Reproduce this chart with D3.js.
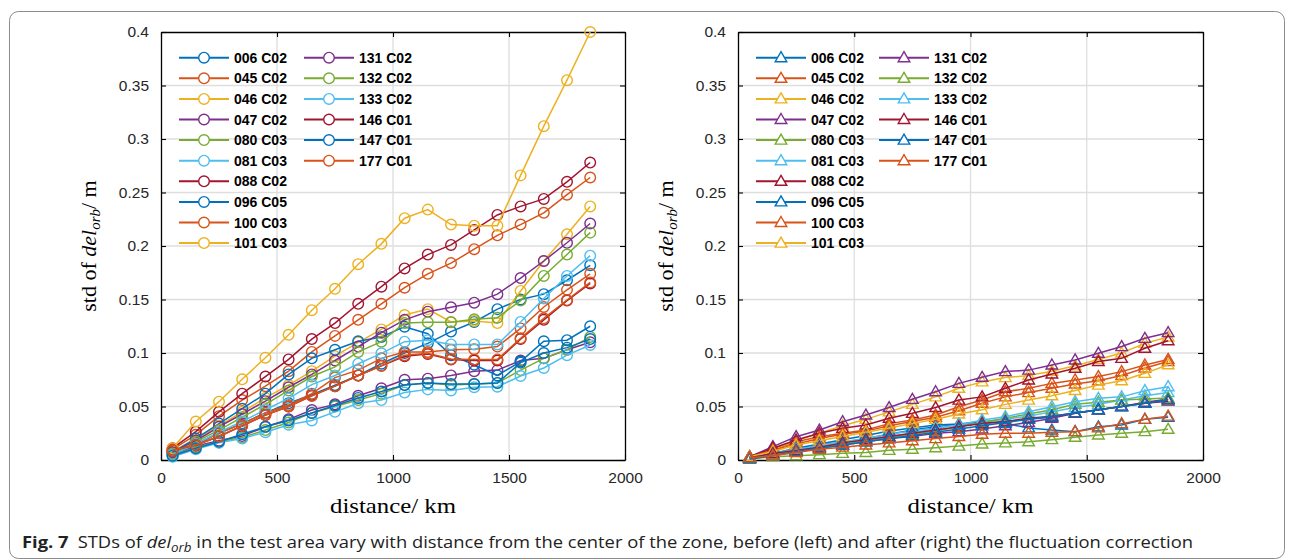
<!DOCTYPE html>
<html><head><meta charset="utf-8">
<script src="https://cdn.jsdelivr.net/npm/d3@7"></script>
<style>html,body{margin:0;padding:0;background:#fff;}svg{display:block;}</style>
</head><body>
<svg id="chart" width="1296" height="560"></svg>
<script>
// ---------------- DATA ----------------
const distances = [50,150,250,350,450,550,650,750,850,950,1050,1150,1250,1350,1450,1550,1650,1750,1850];
const seriesNames = ["006 C02","045 C02","046 C02","047 C02","080 C03","081 C03","088 C02","096 C05","100 C03","101 C03","131 C02","132 C02","133 C02","146 C01","147 C01","177 C01"];
const seriesColors = ["#0072BD","#D95319","#EDB120","#7E2F8E","#77AC30","#4DBEEE","#A2142F","#0072BD","#D95319","#EDB120","#7E2F8E","#77AC30","#4DBEEE","#A2142F","#0072BD","#D95319"];
const xTicks = [0,500,1000,1500,2000];
const yTicks = [0,0.05,0.1,0.15,0.2,0.25,0.3,0.35,0.4];
const yTickLabels = ["0","0.05","0.1","0.15","0.2","0.25","0.3","0.35","0.4"];
const xTickLabels = ["0","500","1000","1500","2000"];

// before correction (left)
const L_006 = [0.006,0.015,0.025,0.034,0.044,0.053,0.061,0.070,0.079,0.090,0.100,0.109,0.120,0.129,0.141,0.150,0.155,0.168,0.182];
const L_045 = [0.010,0.0235,0.041,0.056,0.069,0.083,0.101,0.116,0.131,0.146,0.161,0.174,0.184,0.197,0.210,0.220,0.231,0.248,0.264];
const L_046 = [0.008,0.020,0.032,0.045,0.058,0.070,0.083,0.097,0.110,0.122,0.1355,0.141,0.129,0.130,0.128,0.158,0.186,0.211,0.237];
const L_047 = [0.005,0.013,0.018,0.0224,0.031,0.038,0.0467,0.052,0.060,0.067,0.075,0.076,0.079,0.083,0.084,0.093,0.095,0.103,0.110];
const L_080 = [0.004,0.012,0.017,0.021,0.028,0.035,0.044,0.050,0.056,0.062,0.070,0.072,0.070,0.071,0.072,0.084,0.095,0.103,0.115];
const L_081 = [0.003,0.010,0.016,0.020,0.026,0.033,0.037,0.045,0.053,0.056,0.063,0.066,0.065,0.068,0.0685,0.0785,0.086,0.098,0.1075];
const L_088 = [0.011,0.0265,0.045,0.062,0.078,0.094,0.113,0.128,0.146,0.162,0.179,0.192,0.201,0.215,0.229,0.237,0.244,0.260,0.278];
const L_096 = [0.007,0.020,0.034,0.048,0.062,0.080,0.095,0.103,0.111,0.115,0.1246,0.118,0.098,0.089,0.079,0.092,0.111,0.112,0.125];
const L_100 = [0.008,0.015,0.025,0.034,0.044,0.0514,0.062,0.077,0.084,0.095,0.101,0.101,0.103,0.1034,0.106,0.123,0.143,0.159,0.174];
const L_101 = [0.011,0.036,0.0545,0.0754,0.0956,0.117,0.140,0.160,0.183,0.202,0.226,0.234,0.220,0.219,0.219,0.266,0.312,0.355,0.400];
const L_131 = [0.007,0.018,0.031,0.043,0.055,0.068,0.080,0.093,0.106,0.119,0.131,0.1386,0.1427,0.147,0.155,0.170,0.186,0.203,0.221];
const L_132 = [0.006,0.017,0.028,0.040,0.052,0.065,0.078,0.087,0.101,0.1106,0.128,0.1287,0.1287,0.1315,0.133,0.149,0.172,0.192,0.2125];
const L_133 = [0.005,0.015,0.026,0.036,0.047,0.0576,0.0705,0.079,0.090,0.0997,0.1106,0.112,0.108,0.108,0.108,0.129,0.151,0.172,0.191];
const L_146 = [0.009,0.014,0.022,0.032,0.042,0.050,0.060,0.069,0.079,0.088,0.097,0.099,0.094,0.093,0.093,0.113,0.131,0.149,0.165];
const L_147 = [0.004,0.011,0.017,0.024,0.031,0.037,0.044,0.051,0.058,0.064,0.070,0.072,0.071,0.071,0.072,0.091,0.100,0.105,0.113];
const L_177 = [0.009,0.014,0.022,0.032,0.042,0.050,0.060,0.069,0.079,0.088,0.098,0.0997,0.0944,0.094,0.094,0.1137,0.1324,0.1495,0.166];

// after correction (right)
const R_006 = [0.002,0.005,0.009,0.012,0.016,0.020,0.024,0.028,0.031,0.033,0.034,0.036,0.038,0.040,0.0436,0.047,0.050,0.053,0.057];
const R_045 = [0.003,0.0093,0.017,0.0218,0.025,0.028,0.034,0.0374,0.042,0.0498,0.056,0.0638,0.067,0.0716,0.0748,0.078,0.0826,0.0888,0.094];
const R_046 = [0.003,0.010,0.018,0.025,0.032,0.038,0.045,0.052,0.059,0.067,0.073,0.077,0.079,0.083,0.088,0.094,0.100,0.109,0.115];
const R_047 = [0.003,0.0125,0.0218,0.028,0.0358,0.042,0.049,0.0567,0.0638,0.0716,0.0773,0.0826,0.084,0.0888,0.0935,0.0997,0.106,0.1137,0.119];
const R_080 = [0.001,0.003,0.004,0.005,0.0062,0.007,0.009,0.010,0.0115,0.013,0.015,0.016,0.017,0.019,0.0212,0.0234,0.025,0.0265,0.0287];
const R_081 = [0.002,0.006,0.010,0.014,0.017,0.020,0.024,0.027,0.030,0.033,0.036,0.038,0.041,0.045,0.049,0.052,0.056,0.060,0.063];
const R_088 = [0.003,0.011,0.0187,0.025,0.0296,0.0327,0.039,0.0436,0.049,0.056,0.059,0.067,0.0748,0.0804,0.0857,0.092,0.095,0.1044,0.1115];
const R_096 = [0.002,0.006,0.011,0.015,0.019,0.023,0.027,0.030,0.0327,0.0336,0.036,0.034,0.030,0.028,0.0265,0.031,0.0327,0.038,0.040];
const R_100 = [0.003,0.009,0.015,0.020,0.024,0.027,0.032,0.036,0.040,0.046,0.053,0.059,0.063,0.067,0.071,0.074,0.079,0.086,0.092];
const R_101 = [0.003,0.008,0.014,0.018,0.022,0.026,0.030,0.034,0.038,0.043,0.047,0.052,0.056,0.060,0.065,0.070,0.074,0.081,0.089];
const R_131 = [0.002,0.005,0.008,0.011,0.014,0.017,0.020,0.022,0.025,0.0265,0.029,0.032,0.035,0.039,0.0436,0.047,0.050,0.054,0.0567];
const R_132 = [0.002,0.005,0.009,0.012,0.015,0.018,0.021,0.024,0.027,0.031,0.035,0.039,0.043,0.047,0.052,0.054,0.056,0.057,0.058];
const R_133 = [0.002,0.006,0.010,0.013,0.016,0.019,0.022,0.025,0.0296,0.0327,0.0374,0.0405,0.045,0.0498,0.0545,0.0576,0.059,0.0648,0.0685];
const R_146 = [0.002,0.006,0.009,0.012,0.016,0.019,0.022,0.025,0.028,0.031,0.034,0.036,0.039,0.041,0.044,0.047,0.050,0.053,0.055];
const R_147 = [0.001,0.004,0.008,0.011,0.014,0.017,0.020,0.023,0.026,0.029,0.032,0.035,0.038,0.041,0.044,0.047,0.050,0.053,0.056];
const R_177 = [0.002,0.004,0.007,0.010,0.012,0.014,0.016,0.018,0.020,0.022,0.024,0.025,0.025,0.026,0.0265,0.030,0.034,0.038,0.041];

const leftSeries = [L_006,L_045,L_046,L_047,L_080,L_081,L_088,L_096,L_100,L_101,L_131,L_132,L_133,L_146,L_147,L_177];
const rightSeries = [R_006,R_045,R_046,R_047,R_080,R_081,R_088,R_096,R_100,R_101,R_131,R_132,R_133,R_146,R_147,R_177];

// ---------------- DRAW ----------------
const svg = d3.select("#chart");
const tickFont = "Liberation Sans, Arial, sans-serif";
const serif = "Liberation Serif, Times New Roman, serif";

// outer frame
svg.append("rect").attr("x",9.5).attr("y",11.5).attr("width",1275).attr("height",547)
  .attr("rx",9).attr("fill","none").attr("stroke","#8c8c8c").attr("stroke-width",1);

const circlePath = d3.symbol().type(d3.symbolCircle).size(Math.PI*5.3*5.3);
const triPath = "M0,-6L5.8,4L-5.8,4Z";

function panel(x0, x1, data, marker) {
  const x = d3.scaleLinear().domain([0,2000]).range([x0,x1]);
  const y = d3.scaleLinear().domain([0,0.4]).range([460,32]);
  const g = svg.append("g");
  // grid
  g.append("g").selectAll("line").data(xTicks.slice(1,-1)).join("line")
    .attr("x1",d=>x(d)).attr("x2",d=>x(d)).attr("y1",y(0)).attr("y2",y(0.4))
    .attr("stroke","#dedede").attr("stroke-width",1.3);
  g.append("g").selectAll("line").data(yTicks.slice(1,-1)).join("line")
    .attr("x1",x(0)).attr("x2",x(2000)).attr("y1",d=>y(d)).attr("y2",d=>y(d))
    .attr("stroke","#dedede").attr("stroke-width",1.3);

  // axes
  const axB = d3.axisBottom(x).tickValues(xTicks).tickFormat((d,i)=>xTickLabels[i]).tickSizeInner(-5).tickSizeOuter(0).tickPadding(12);
  const axL = d3.axisLeft(y).tickValues(yTicks).tickFormat((d,i)=>yTickLabels[i]).tickSizeInner(-5).tickSizeOuter(0).tickPadding(12);
  const axT = d3.axisTop(x).tickValues(xTicks).tickFormat("").tickSizeInner(-5).tickSizeOuter(0);
  const axR = d3.axisRight(y).tickValues(yTicks).tickFormat("").tickSizeInner(-5).tickSizeOuter(0);
  [[axB,`translate(0,${y(0)})`],[axL,`translate(${x(0)},0)`],[axT,`translate(0,${y(0.4)})`],[axR,`translate(${x(2000)},0)`]].forEach(([ax,tr])=>{
    const a = g.append("g").attr("transform",tr).call(ax);
    a.selectAll("path").attr("stroke","#000").attr("stroke-width",1.3);
    a.selectAll("line").attr("stroke","#000").attr("stroke-width",1.1);
    a.selectAll("text").attr("font-family",tickFont).attr("font-size",15.5).attr("fill","#262626");
  });

  // series
  const line = d3.line().x((d,i)=>x(distances[i])).y(d=>y(d));
  data.forEach((vals,k)=>{
    const s = g.append("g");
    s.append("path").attr("d",line(vals)).attr("fill","none").attr("stroke",seriesColors[k]).attr("stroke-width",1.5);
    s.selectAll("path.m").data(vals).join("path").attr("class","m")
      .attr("transform",(d,i)=>`translate(${x(distances[i])},${y(d)})`)
      .attr("d", marker==="o" ? circlePath() : triPath)
      .attr("fill","none").attr("stroke",seriesColors[k]).attr("stroke-width",1.4);
  });

  // legend
  const lx = marker==="o" ? [179,304] : [756,879];
  seriesNames.forEach((nm,k)=>{
    const col = k<10 ? 0 : 1, row = k<10 ? k : k-10;
    const yy = 57.7 + row*20.6;
    const gx = lx[col];
    g.append("line").attr("x1",gx).attr("x2",gx+50).attr("y1",yy).attr("y2",yy)
      .attr("stroke",seriesColors[k]).attr("stroke-width",2);
    g.append("path").attr("transform",`translate(${gx+25},${yy})`)
      .attr("d", marker==="o" ? circlePath() : triPath)
      .attr("fill","#fff").attr("stroke",seriesColors[k]).attr("stroke-width",1.4);
    g.append("text").attr("x",gx+55).attr("y",yy+5).text(nm)
      .attr("font-family",tickFont).attr("font-weight","bold").attr("font-size",14).attr("fill","#000");
  });

  // x label
  g.append("text").attr("x",(x0+x1)/2).attr("y",513).attr("text-anchor","middle")
    .attr("font-family",serif).attr("font-size",22).attr("fill","#000")
    .attr("textLength",126).attr("lengthAdjust","spacingAndGlyphs").text("distance/ km");
  // y label
  const yl = g.append("text").attr("transform",`translate(${x0-65},246) rotate(-90)`)
    .attr("text-anchor","middle").attr("font-family",serif).attr("font-size",22).attr("fill","#000");
  yl.append("tspan").text("std of ");
  yl.append("tspan").attr("font-style","italic").text("del");
  yl.append("tspan").attr("font-style","italic").attr("font-size",15).attr("dy",4).text("orb");
  yl.append("tspan").attr("dy",-4).text("/ m");
}

panel(161, 625, leftSeries, "o");
panel(738, 1203, rightSeries, "^");

// caption
const cap = svg.append("text").attr("x",22).attr("y",548).attr("font-family","Open Sans, Noto Sans, sans-serif")
  .attr("font-size",16.5).attr("fill","#222")
  .attr("textLength",1171).attr("lengthAdjust","spacingAndGlyphs");
cap.append("tspan").attr("font-weight","bold").text("Fig. 7");
cap.append("tspan").text("\u2002STDs of ");
cap.append("tspan").attr("font-style","italic").text("del");
cap.append("tspan").attr("font-style","italic").attr("font-size",12).attr("dy",4).text("orb");
cap.append("tspan").attr("dy",-4).text(" in the test area vary with distance from the center of the zone, before (left) and after (right) the fluctuation correction");
</script>
</body></html>
